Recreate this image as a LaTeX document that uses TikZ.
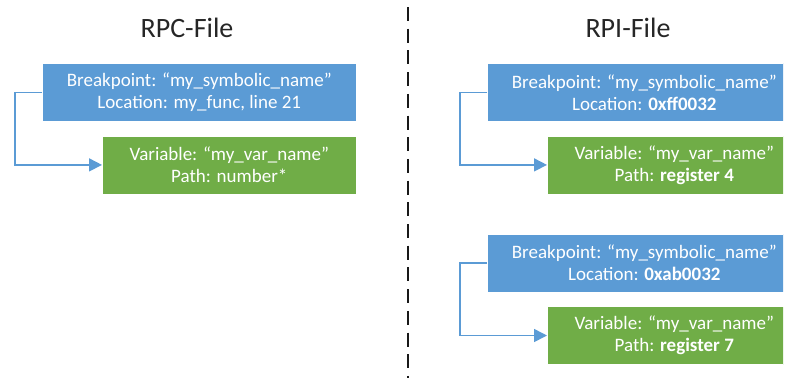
\documentclass[tikz,border=0pt]{standalone}
\usepackage{fontspec}
\setmainfont{Carlito}
\usepackage{xcolor}
\usepackage{tikz}
\usetikzlibrary{arrows.meta,positioning}

\definecolor{bpblue}{HTML}{5B9BD5}
\definecolor{vargreen}{HTML}{70AD47}

\begin{document}
\begin{tikzpicture}[
    x=1pt, y=-1pt,
    bpbox/.style={
        rectangle,
        fill=bpblue,
        draw=white,
        line width=0.6pt,
        text=white,
        align=center,
        minimum width=314pt,
        minimum height=58pt,
        inner sep=0pt,
        font=\fontsize{19}{22}\selectfont
    },
    varbox/.style={
        rectangle,
        fill=vargreen,
        draw=white,
        line width=0.6pt,
        text=white,
        align=center,
        minimum width=254pt,
        minimum height=58pt,
        inner sep=0pt,
        font=\fontsize{19}{22}\selectfont
    },
    filetitle/.style={
        anchor=base,
        text=black!85,
        inner sep=0pt,
        font=\fontsize{28}{32}\selectfont
    },
    link/.style={
        -{Triangle[length=13pt,width=13pt]},
        draw=bpblue,
        line width=1.6pt
    },
    sepline/.style={
        draw=black!90,
        line width=2pt,
        dash pattern=on 14pt off 7.7pt
    }
]

\useasboundingbox (0,0) rectangle (790,378);
\clip (0,0) rectangle (783,378);

% =========================
% Titles and separator
% =========================

\node[filetitle] (rpcTitle) at (187,37) {RPC-File};
\node[filetitle] (rpiTitle) at (628,37) {RPI-File};

\coordinate (sepTop) at (408,7);
\coordinate (sepBot) at (408,378);
\draw[sepline] (sepTop) -- (sepBot);

% =========================
% RPC side
% =========================

\node[bpbox, anchor=north west] (bpRpc) at (42,63)
{Breakpoint: “my\_symbolic\_name”\\Location: my\_func, line 21};

\node[varbox, below=14pt of bpRpc.south east, anchor=north east] (varRpc)
{Variable: “my\_var\_name”\\Path: number*};

% =========================
% RPI side
% =========================

\node[bpbox, anchor=north west] (bpRpiA) at (487,63)
{Breakpoint: “my\_symbolic\_name”\\Location: \textbf{0xff0032}};

\node[varbox, below=14pt of bpRpiA.south east, anchor=north east] (varRpiA)
{Variable: “my\_var\_name”\\Path: \textbf{register 4}};

\node[bpbox, below=112pt of bpRpiA.south west, anchor=north west] (bpRpiB)
{Breakpoint: “my\_symbolic\_name”\\Location: \textbf{0xab0032}};

\node[varbox, below=14pt of bpRpiB.south east, anchor=north east] (varRpiB)
{Variable: “my\_var\_name”\\Path: \textbf{register 7}};

% =========================
% Breakpoint -> variable
% =========================

\draw[link] (bpRpc.west) -- ++(-27pt,0) |- (varRpc.west);
\draw[link] (bpRpiA.west) -- ++(-27pt,0) |- (varRpiA.west);
\draw[link] (bpRpiB.west) -- ++(-27pt,0) |- (varRpiB.west);

\end{tikzpicture}
\end{document}
